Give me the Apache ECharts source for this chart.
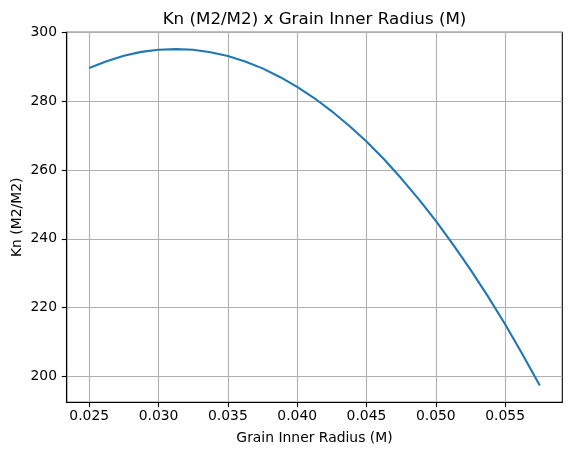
<!DOCTYPE html>
<html>
<head>
<meta charset="utf-8">
<script src="https://cdn.jsdelivr.net/npm/echarts@6/dist/echarts.min.js"></script>
<style>
html,body{margin:0;padding:0;background:#fff;}
#chart{width:571px;height:455px;}
</style>
</head>
<body>
<div id="chart"></div>
<script>
const radius = [0.025, 0.02625, 0.0275, 0.02875, 0.030, 0.03125, 0.0325, 0.03375, 0.035, 0.03625, 0.0375, 0.03875, 0.040, 0.04125,
  0.0425, 0.04375, 0.045, 0.04625, 0.0475, 0.04875, 0.050, 0.05125, 0.0525, 0.05375, 0.055, 0.05625, 0.0575];
const kn = [289.7, 291.7, 293.3, 294.4, 295.0, 295.2, 295.0, 294.3, 293.2, 291.6, 289.6, 287.1, 284.2, 280.9,
  277.1, 272.9, 268.3, 263.2, 257.6, 251.6, 245.2, 238.3, 231.0, 223.3, 215.1, 206.4, 197.3];
const xTicks = [0.025, 0.030, 0.035, 0.040, 0.045, 0.050, 0.055];
const yTicks = [200, 220, 240, 260, 280, 300];
const titleText = 'Kn (M2/M2) x Grain Inner Radius (M)';
const xName = 'Grain Inner Radius (M)';
const yName = 'Kn (M2/M2)';

const chart = echarts.init(document.getElementById('chart'), null, {renderer: 'canvas'});
const font = 'DejaVu Sans';
chart.setOption({
  animation: false,
  backgroundColor: '#fff',
  title: {
    text: titleText,
    left: 309.5,
    top: 6,
    textAlign: 'center',
    textStyle: {fontFamily: font, fontSize: 16.7, fontWeight: 'normal', color: '#000'}
  },
  grid: {
    left: 66.7, right: 8.7, top: 32.3, bottom: 52.7,
    outerBoundsMode: 'none',
    containLabel: false,
    show: true, borderColor: '#000', borderWidth: 1.1, backgroundColor: 'transparent'
  },
  xAxis: {
    type: 'value',
    min: 0.023375, max: 0.059125,
    name: xName,
    nameLocation: 'middle',
    nameGap: 29,
    nameMoveOverlap: false,
    nameTextStyle: {fontFamily: font, fontSize: 13.9, color: '#000'},
    axisLine: {show: true, onZero: false, lineStyle: {color: '#000', width: 1.1}},
    axisTick: {show: true, length: 4.9, customValues: xTicks, lineStyle: {color: '#000', width: 1.1}},
    axisLabel: {customValues: xTicks, margin: 7.5, fontFamily: font, fontSize: 13.9, color: '#000',
      formatter: v => Number(v).toFixed(3)},
    splitLine: {show: true, lineStyle: {color: '#b0b0b0', width: 1.1}}
  },
  yAxis: {
    type: 'value',
    min: 192.4, max: 300.1,
    name: yName,
    nameLocation: 'middle',
    nameGap: 42,
    nameMoveOverlap: false,
    nameTextStyle: {fontFamily: font, fontSize: 13.9, color: '#000'},
    axisLine: {show: true, onZero: false, lineStyle: {color: '#000', width: 1.1}},
    axisTick: {show: true, length: 4.9, customValues: yTicks, lineStyle: {color: '#000', width: 1.1}},
    axisLabel: {customValues: yTicks, margin: 9.7, fontFamily: font, fontSize: 13.9, color: '#000'},
    splitLine: {show: true, lineStyle: {color: '#b0b0b0', width: 1.1}}
  },
  series: [{
    type: 'line',
    data: radius.map((r, i) => [r, kn[i]]),
    smooth: false,
    showSymbol: false,
    lineStyle: {color: '#1f77b4', width: 2.1},
    itemStyle: {color: '#1f77b4'}
  }]
});
</script>
</body>
</html>
